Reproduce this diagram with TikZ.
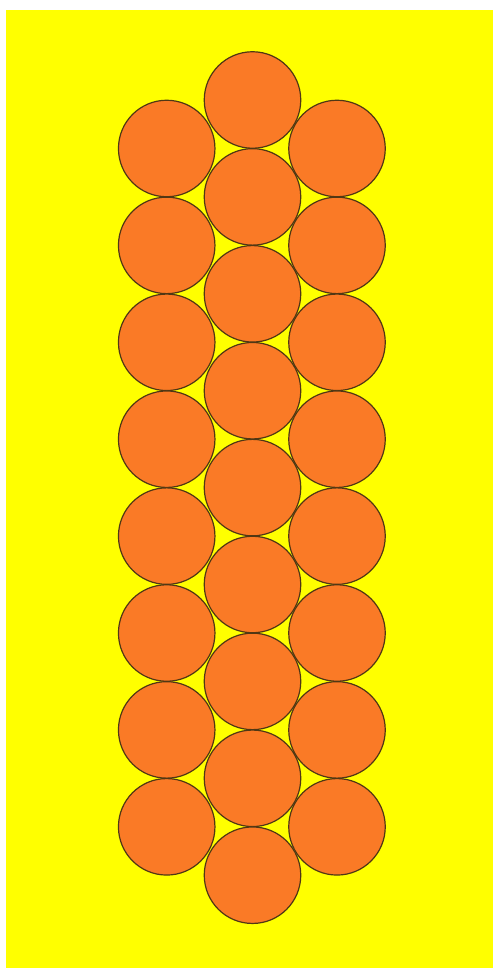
\documentclass[tikz,border=0pt]{standalone}
\definecolor{ballfill}{RGB}{250,122,38}
\definecolor{ballline}{RGB}{80,55,20}
\definecolor{bgyellow}{RGB}{255,255,0}
\tikzset{ball/.style={circle,draw=ballline,fill=ballfill,line width=1.2pt,minimum size=96.5pt,inner sep=0pt,outer sep=0pt}}
\begin{document}
\begin{tikzpicture}[x=1pt,y=-1pt]
\fill[white] (0,0) rectangle (493,968);
\useasboundingbox (0,0) rectangle (493,968);
\fill[bgyellow] (6,10) rectangle (493,968);
\foreach \i in {0,...,8}{
  \node[ball] (c\i) at (252.5,{100+96.9*\i}) {};
}
\foreach \i in {0,...,7}{
  \node[ball] (l\i) at (166.7,{148.5+96.9*\i}) {};
  \node[ball] (r\i) at (337,{148.5+96.9*\i}) {};
}
\end{tikzpicture}
\end{document}
